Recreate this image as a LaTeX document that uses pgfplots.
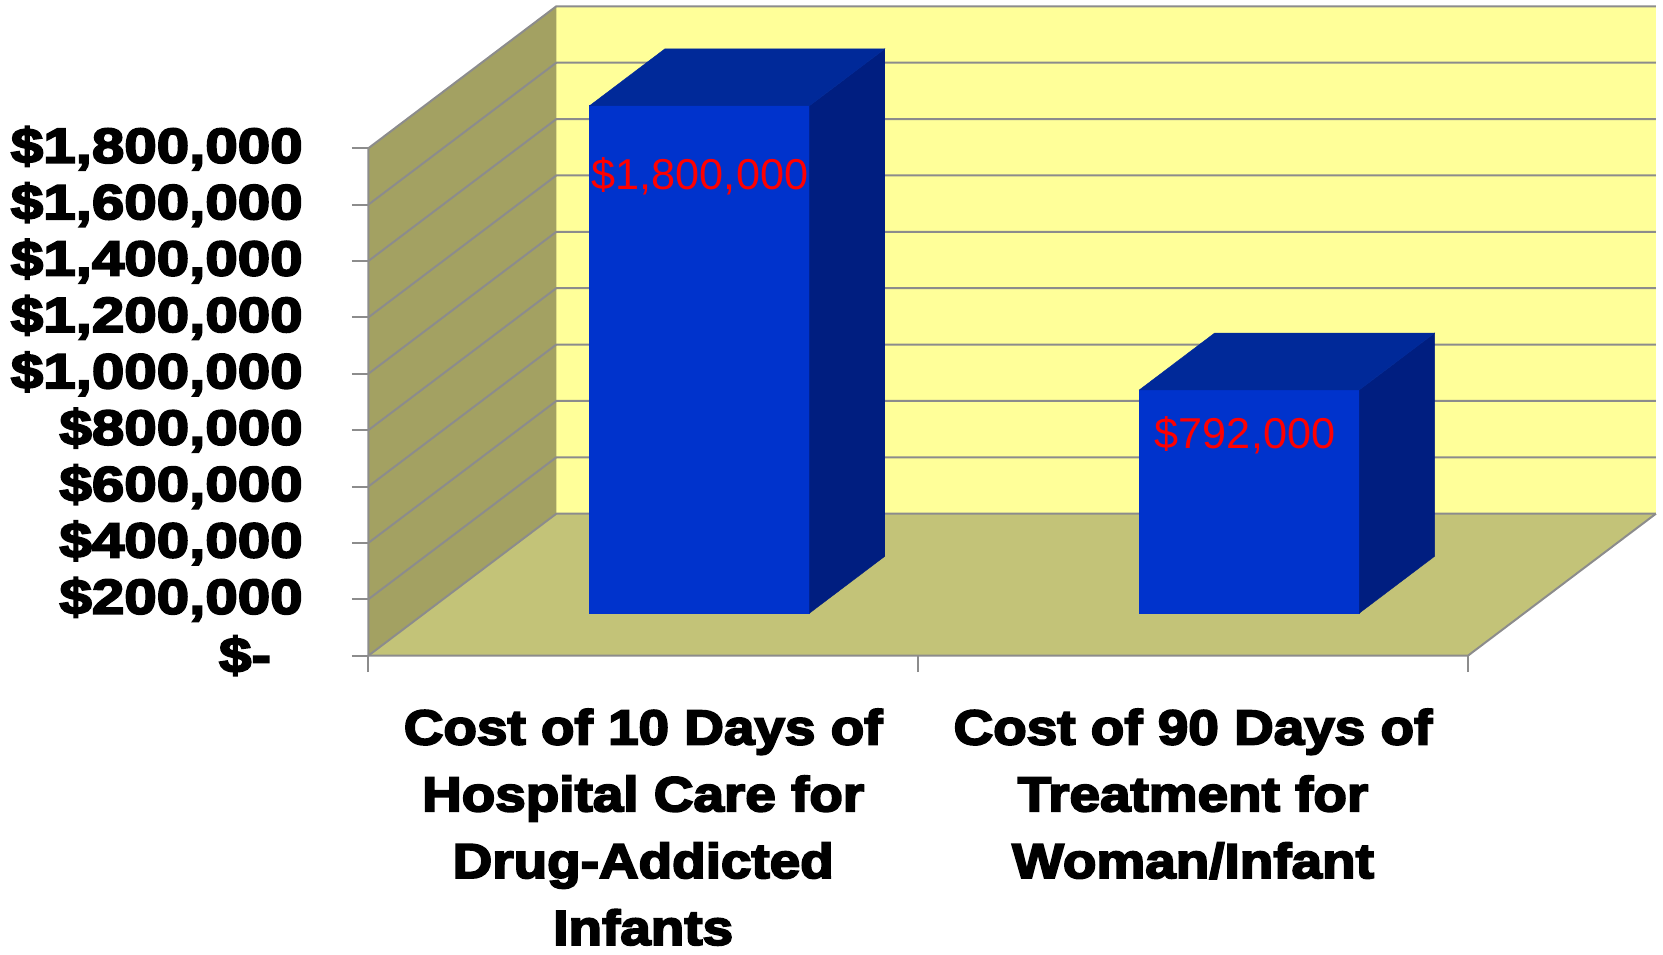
\documentclass[border=0pt]{standalone}
\usepackage{fontspec}
\setmainfont{Liberation Sans}
\newfontfamily\tickfont{Liberation Sans Bold}[FakeStretch=1.19, FakeBold=4]
\newfontfamily\catfont{Liberation Sans Bold}[FakeStretch=1.12, FakeBold=4]
\usepackage{pgfplots}
\pgfplotsset{compat=1.18}
\definecolor{frontc}{RGB}{0,51,204}
\definecolor{topc}{RGB}{0,41,153}
\definecolor{sidec}{RGB}{0,30,128}
\definecolor{backc}{RGB}{255,255,153}
\definecolor{leftc}{RGB}{163,161,98}
\definecolor{floorc}{RGB}{195,195,120}
\definecolor{gridc}{RGB}{140,140,140}
% oblique projection: x = category position, d = depth (0 front .. 1 back), v = dollars
\pgfkeys{/pgfplots/table/proj/.style={x expr=\thisrow{x}+0.34194*\thisrow{d}, y expr=\thisrow{v}+503745*\thisrow{d}}}
\newcommand\costbar[3]{% left x, right x, value
  \addplot[fill=frontc, draw=frontc, line width=0.2pt] table[proj, row sep=\\]{x d v\\ #1 0.3 0\\ #2 0.3 0\\ #2 0.3 #3\\ #1 0.3 #3\\} -- cycle;
  \addplot[fill=sidec, draw=sidec, line width=0.2pt] table[proj, row sep=\\]{x d v\\ #2 0.3 0\\ #2 0.7 0\\ #2 0.7 #3\\ #2 0.3 #3\\} -- cycle;
  \addplot[fill=topc, draw=topc, line width=0.2pt] table[proj, row sep=\\]{x d v\\ #1 0.3 #3\\ #2 0.3 #3\\ #2 0.7 #3\\ #1 0.7 #3\\} -- cycle;
}
\begin{document}
\begin{tikzpicture}
\useasboundingbox (0,0) rectangle (831.5pt,477pt);
\begin{axis}[
  at={(184.15pt,149.15pt)}, anchor=south west,
  scale only axis, width=644.64pt, height=324.88pt,
  xmin=0, xmax=2.345, ymin=0, ymax=2305000,
  clip=false,
  axis line style={draw=none},
  tick align=outside, xtick pos=left, ytick pos=left,
  major tick length=8.2pt,
  tick style={gridc, line width=1pt},
  scaled y ticks=false,
  ytick={0,200000,400000,600000,800000,1000000,1200000,1400000,1600000,1800000},
  yticklabels={{\$-\rule{15.9pt}{0pt}},{\$200,000},{\$400,000},{\$600,000},{\$800,000},{\$1,000,000},{\$1,200,000},{\$1,400,000},{\$1,600,000},{\$1,800,000}},
  yticklabel style={font=\tickfont\fontsize{24.5}{24.5}\selectfont, anchor=east, inner sep=0pt, xshift=-24.4pt},
  xtick={0,1,2}, xticklabels={},
  extra x ticks={0.5,1.5},
  extra x tick labels={{Cost of 10 Days of\\Hospital Care for\\Drug-Addicted\\Infants},{Cost of 90 Days of\\Treatment for\\Woman/Infant}},
  extra x tick style={major tick length=0pt, tick style={draw=none},
    xticklabel style={font=\catfont\fontsize{24.5}{33.4}\selectfont, align=center, anchor=north, inner sep=0pt, yshift=-26.4pt}},
]
% walls
\addplot[fill=backc, draw=none] table[proj, row sep=\\]{x d v\\ 0 1 0\\ 2 1 0\\ 2 1 1800000\\ 0 1 1800000\\} -- cycle;
\addplot[fill=leftc, draw=none] table[proj, row sep=\\]{x d v\\ 0 0 0\\ 0 1 0\\ 0 1 1800000\\ 0 0 1800000\\} -- cycle;
\addplot[fill=floorc, draw=none] table[proj, row sep=\\]{x d v\\ 0 0 0\\ 2 0 0\\ 2 1 0\\ 0 1 0\\} -- cycle;
% grid lines on left and back walls
\pgfplotsinvokeforeach{0,200000,400000,600000,800000,1000000,1200000,1400000,1600000,1800000}{
  \addplot[gridc, line width=1pt] table[proj, row sep=\\]{x d v\\ 0 0 #1\\ 0 1 #1\\ 2 1 #1\\};
}
% front edges (axis lines)
\addplot[gridc, line width=1pt] table[proj, row sep=\\]{x d v\\ 0 0 1800000\\ 0 0 0\\ 2 0 0\\ 2 1 0\\};
% bars
\costbar{0.3}{0.7}{1800000}
\costbar{1.3}{1.7}{792000}
% data labels
\node[font=\fontsize{21.6}{21.6}\selectfont, text=red, anchor=base] at (axis cs:0.6033,1654550) {\$1,800,000};
\node[font=\fontsize{21.6}{21.6}\selectfont, text=red, anchor=base] at (axis cs:1.5946,735750) {\$792,000};
\end{axis}
\end{tikzpicture}
\end{document}
